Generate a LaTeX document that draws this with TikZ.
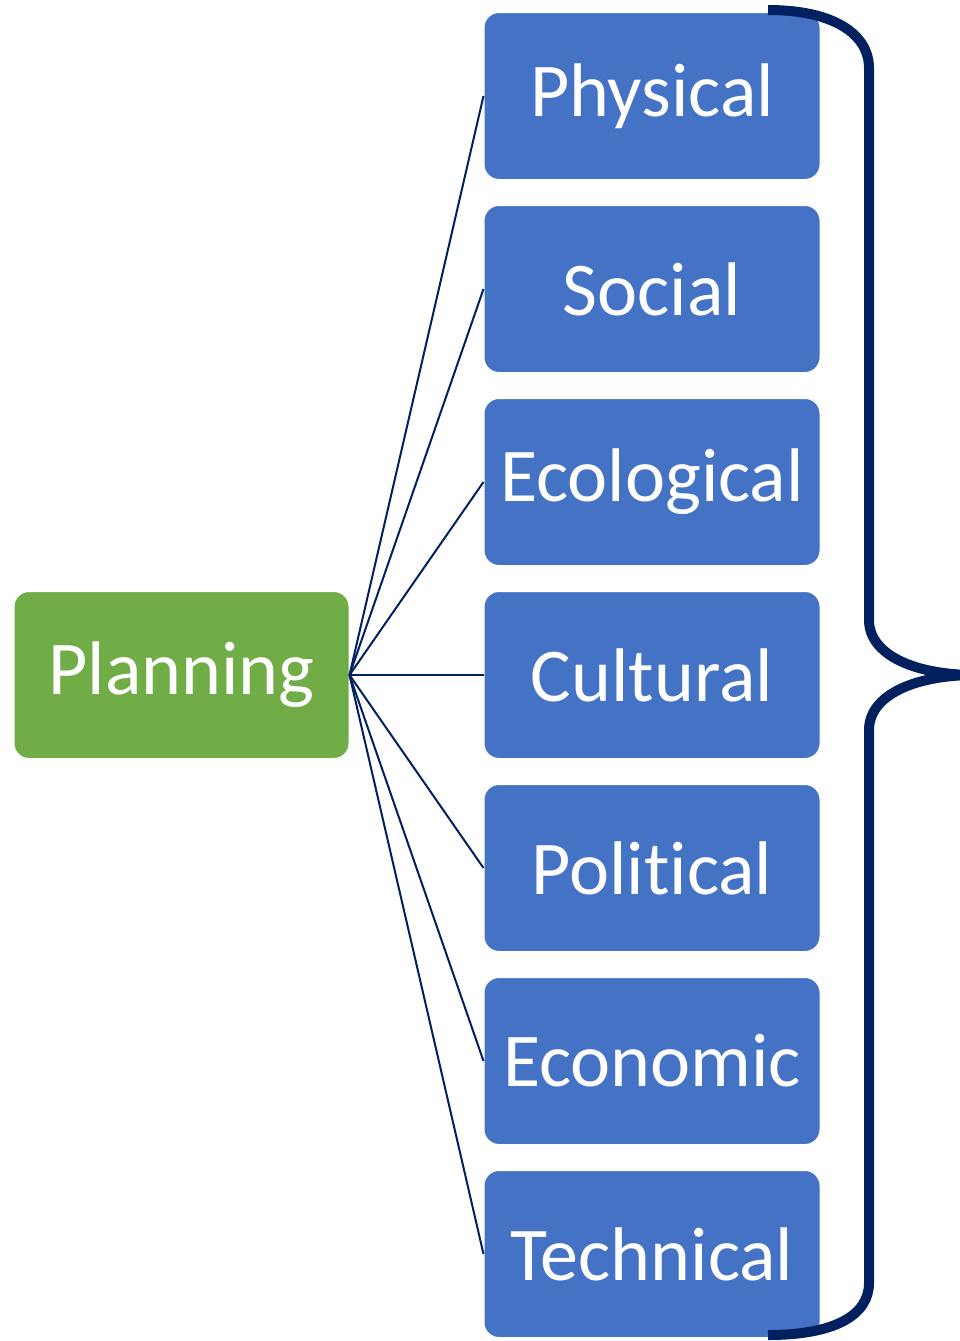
\documentclass[tikz,border=0pt]{standalone}
\usepackage{fontspec}
\setmainfont{Carlito}[Ligatures={NoCommon,NoContextual}]
\usepackage{xcolor}
\usepackage{tikz}
\definecolor{planblue}{HTML}{4472C4}
\definecolor{plangreen}{HTML}{70AD47}
\definecolor{navy}{HTML}{002060}
\tikzstyle{root} = [rectangle, rounded corners=15pt, minimum width=335pt, minimum height=167pt, text centered, draw=white, line width=1pt, fill=plangreen, text=white, font=\fontsize{76pt}{90pt}\selectfont]
\tikzstyle{aspect} = [rectangle, rounded corners=15pt, minimum width=336pt, minimum height=167pt, text centered, draw=white, line width=1pt, fill=planblue, text=white, font=\fontsize{76pt}{90pt}\selectfont]
\tikzstyle{link} = [draw=navy, line width=2pt]
\tikzstyle{brace} = [draw=navy, line width=10pt]
\begin{document}
\begin{tikzpicture}[node distance = 193pt]
	\useasboundingbox (0,0) rectangle (960pt,-1341pt);

	\node (physical) [aspect] at (652pt,-96pt) {Physical};
	\node (social) [aspect,below of=physical] {Social};
	\node (ecological) [aspect,below of=social] {Ecological};
	\node (cultural) [aspect,below of=ecological] {Cultural};
	\node (political) [aspect,below of=cultural] {Political};
	\node (economic) [aspect,below of=political] {Economic};
	\node (technical) [aspect,below of=economic] {Technical};
	\node (planning) [root] at (181.5pt,-675pt) {Planning};

	\draw [link] (planning.east) -- (physical.west);
	\draw [link] (planning.east) -- (social.west);
	\draw [link] (planning.east) -- (ecological.west);
	\draw [link] (planning.east) -- (cultural.west);
	\draw [link] (planning.east) -- (political.west);
	\draw [link] (planning.east) -- (economic.west);
	\draw [link] (planning.east) -- (technical.west);

	% curly brace on the right
	\draw [brace] (768pt,-10pt) .. controls (835pt,-10pt) and (869pt,-35pt) .. (869pt,-68pt)
		-- (869pt,-620pt) .. controls (869pt,-655pt) and (915pt,-675pt) .. (975pt,-675pt)
		.. controls (915pt,-675pt) and (869pt,-695pt) .. (869pt,-730pt)
		-- (869pt,-1283pt) .. controls (869pt,-1315pt) and (835pt,-1335pt) .. (768pt,-1335pt);

\end{tikzpicture}
\end{document}
